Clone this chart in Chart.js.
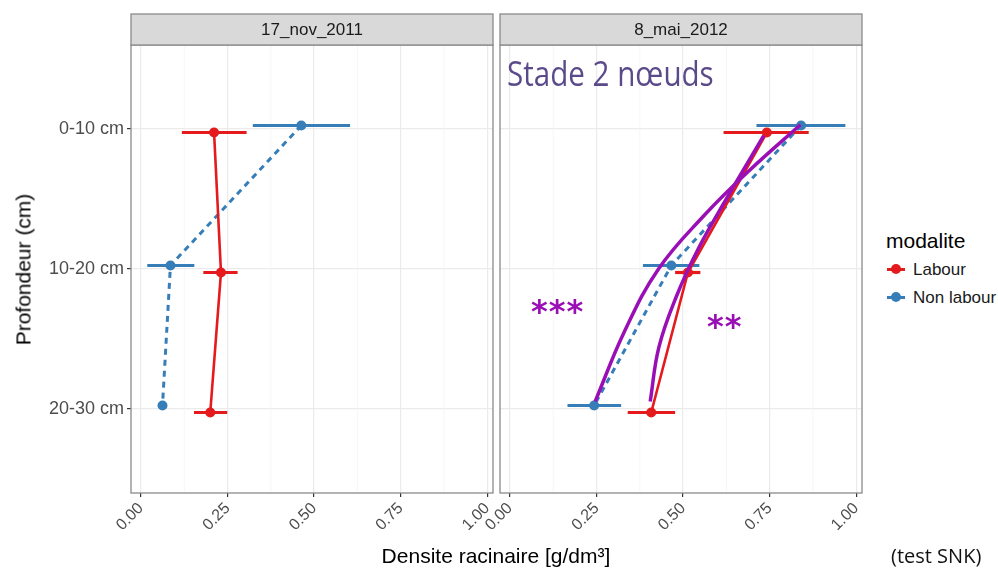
<!DOCTYPE html>
<html lang="fr">
<head>
<meta charset="UTF-8">
<title>Densite racinaire</title>
<script src="https://cdn.jsdelivr.net/npm/chart.js"></script>
<style>
  body { margin: 0; background: #fff; font-family: 'Liberation Sans', Arial, sans-serif; }
  .stage { position: relative; width: 998px; height: 570px; overflow: hidden; }
  canvas { position: absolute; top: 0; }
  #leftChart { left: 0; }
  #rightChart { left: 395px; }
  .txt { position: absolute; white-space: nowrap; line-height: 1; }
  .axisTitle { font-size: 21px; color: #000; }
  .ytitle { left: -127px; top: 259px; width: 300px; text-align: center; transform: rotate(-90deg); }
  .xtitle { left: 296px; top: 545px; width: 400px; text-align: center; }
  .legTitle { left: 886px; top: 230px; font-size: 21px; }
  .legLabel { left: 913px; font-size: 17px; color: #1a1a1a; }
  .key { position: absolute; left: 887px; width: 18px; height: 3px; }
  .key::after { content: ''; position: absolute; left: 4px; top: -4px; width: 10px; height: 10px; border-radius: 50%; background: inherit; }
  .stade { left: 507px; top: 56px; font-family: 'Open Sans', sans-serif; font-size: 34px; color: #5b4a8a; transform: scaleX(0.87); transform-origin: left top; }
  .stars { font-family: 'DejaVu Sans', sans-serif; font-weight: bold; font-size: 32px; letter-spacing: 1px; color: #9a0fb5; }
  .snk { left: 891px; top: 546px; font-family: 'Open Sans', sans-serif; font-size: 20px; color: #111; }
</style>
</head>
<body>
<div class="stage">
  <canvas id="leftChart" width="512" height="570"></canvas>
  <canvas id="rightChart" width="485" height="570"></canvas>

  <div class="txt axisTitle ytitle">Profondeur (cm)</div>
  <div class="txt axisTitle xtitle">Densite racinaire [g/dm³]</div>

  <div class="txt legTitle">modalite</div>
  <div class="key" style="top:268px; background:#e41a1c;"></div>
  <div class="txt legLabel" style="top:261px;">Labour</div>
  <div class="key" style="top:296px; background:#377eb8;"></div>
  <div class="txt legLabel" style="top:289px;">Non labour</div>

  <div class="txt stade">Stade 2 nœuds</div>
  <div class="txt stars" style="left:531px; top:295px;">***</div>
  <div class="txt stars" style="left:707px; top:310px;">**</div>
  <div class="txt snk">(test SNK)</div>
</div>

<script>
// ---- data ----
const panels = ['17_nov_2011', '8_mai_2012'];
const depths = ['0-10 cm', '10-20 cm', '20-30 cm'];
const xTickValues = [0, 0.25, 0.5, 0.75, 1];
const xTickLabels = ['0.00', '0.25', '0.50', '0.75', '1.00'];
const xMinorValues = [0.125, 0.375, 0.625, 0.875];

// 17_nov_2011
const novLabour = [0.211, 0.231, 0.200];
const novLabourLo = [0.118, 0.180, 0.153];
const novLabourHi = [0.305, 0.279, 0.249];
const novNonLabour = [0.463, 0.085, 0.062];
const novNonLabourLo = [0.323, 0.018, null];
const novNonLabourHi = [0.604, 0.154, null];

// 8_mai_2012
const maiLabour = [0.742, 0.514, 0.408];
const maiLabourLo = [0.617, 0.477, 0.340];
const maiLabourHi = [0.863, 0.550, 0.477];
const maiNonLabour = [0.841, 0.466, 0.243];
const maiNonLabourLo = [0.712, 0.384, 0.166];
const maiNonLabourHi = [0.969, 0.547, 0.321];

// hand-drawn trend curves (purple) on the 2012 panel
const fitLabourX = [0.405, 0.430, 0.480, 0.545, 0.625, 0.733];
const fitLabourY = [1.946, 1.56, 1.20, 0.85, 0.50, 0.048];
const fitNonLabourX = [0.246, 0.330, 0.429, 0.560, 0.690, 0.839];
const fitNonLabourY = [1.946, 1.45, 1.00, 0.62, 0.30, -0.03];

const RED = '#e41a1c';
const BLUE = '#377eb8';
const PURPLE = '#9a0fb5';
const dodge = 0.025;

Chart.defaults.font.family = "'Liberation Sans', Arial, sans-serif";

function points(values, offset) {
  return values.map((v, i) => ({ x: v, y: i + offset }));
}
function curve(xs, ys) {
  return xs.map((v, i) => ({ x: v, y: ys[i] }));
}

const panelDecor = {
  id: 'panelDecor',
  beforeDatasetsDraw(chart) {
    const { ctx, chartArea: a, scales: { x, y } } = chart;
    ctx.save();
    ctx.strokeStyle = '#f2f2f2';
    ctx.lineWidth = 0.7;
    xMinorValues.forEach(v => {
      const px = x.getPixelForValue(v);
      ctx.beginPath(); ctx.moveTo(px, a.top); ctx.lineTo(px, a.bottom); ctx.stroke();
    });
    // horizontal error bars
    chart.data.datasets.forEach(ds => {
      if (!ds.errLo) return;
      ctx.strokeStyle = ds.borderColor;
      ctx.lineWidth = 3.2;
      ds.data.forEach((p, j) => {
        if (ds.errLo[j] == null) return;
        const py = y.getPixelForValue(p.y);
        ctx.beginPath();
        ctx.moveTo(x.getPixelForValue(ds.errLo[j]), py);
        ctx.lineTo(x.getPixelForValue(ds.errHi[j]), py);
        ctx.stroke();
      });
    });
    ctx.restore();
  },
  afterDraw(chart, args, opts) {
    const { ctx, chartArea: a } = chart;
    ctx.save();
    ctx.strokeStyle = '#8a8a8a';
    ctx.lineWidth = 1.3;
    ctx.strokeRect(a.left, a.top, a.width, a.height);
    ctx.fillStyle = '#d9d9d9';
    ctx.fillRect(a.left, 14, a.width, a.top - 14);
    ctx.strokeRect(a.left, 14, a.width, a.top - 14);
    ctx.fillStyle = '#1a1a1a';
    ctx.font = "17px 'Liberation Sans', Arial, sans-serif";
    ctx.textAlign = 'center';
    ctx.textBaseline = 'middle';
    ctx.fillText(opts.title, (a.left + a.right) / 2, (14 + a.top) / 2 + 1);
    ctx.restore();
  }
};

function makeScales(showY) {
  return {
    x: {
      type: 'linear', min: -0.029, max: 1.017,
      afterBuildTicks: s => { s.ticks = xTickValues.map(v => ({ value: v })); },
      afterFit: s => { s.height = 50; },
      ticks: {
        callback: (v, i) => xTickLabels[i],
        minRotation: 45, maxRotation: 45, autoSkip: false,
        color: '#4d4d4d', font: { size: 16 }, padding: 2
      },
      grid: { color: '#ebebeb', lineWidth: 1.2, tickLength: 4, tickColor: '#333', tickWidth: 1.2 },
      border: { display: false }
    },
    y: {
      type: 'linear', min: -0.6, max: 2.6, reverse: true,
      afterBuildTicks: s => { s.ticks = depths.map((d, i) => ({ value: i })); },
      afterFit: s => { s.width = showY ? 131 : 0; },
      ticks: {
        display: showY,
        callback: v => depths[Math.round(v)],
        color: '#4d4d4d', font: { size: 18 }, padding: 3
      },
      grid: { color: '#ebebeb', lineWidth: 1.2, drawTicks: showY, tickLength: showY ? 4 : 0, tickColor: '#333', tickWidth: 1.2 },
      border: { display: false }
    }
  };
}

function seriesSet(label, values, lo, hi, color, offset, dash) {
  return {
    label: label,
    data: points(values, offset),
    errLo: lo, errHi: hi,
    showLine: true,
    borderColor: color,
    backgroundColor: color,
    pointBackgroundColor: color,
    pointBorderWidth: 0,
    pointRadius: 5,
    borderWidth: dash ? 3 : 2.6,
    borderDash: dash ? [6, 5] : [],
    tension: 0
  };
}

function makeChart(id, title, datasets, showY, pad) {
  return new Chart(document.getElementById(id), {
    type: 'scatter',
    data: { datasets: datasets },
    options: {
      responsive: false,
      animation: false,
      layout: { padding: pad },
      scales: makeScales(showY),
      plugins: {
        legend: { display: false },
        tooltip: { enabled: false },
        panelDecor: { title: title }
      }
    },
    plugins: [panelDecor]
  });
}

makeChart('leftChart', panels[0], [
  seriesSet('Labour', novLabour, novLabourLo, novLabourHi, RED, dodge, false),
  seriesSet('Non labour', novNonLabour, novNonLabourLo, novNonLabourHi, BLUE, -dodge, true)
], true, { left: 0, right: 19, top: 45, bottom: 27 });

makeChart('rightChart', panels[1], [
  { label: 'fit Labour', data: curve(fitLabourX, fitLabourY), showLine: true, borderColor: PURPLE,
    borderWidth: 3.5, pointRadius: 0, tension: 0.4 },
  { label: 'fit Non labour', data: curve(fitNonLabourX, fitNonLabourY), showLine: true, borderColor: PURPLE,
    borderWidth: 3.5, pointRadius: 0, tension: 0.4 },
  seriesSet('Labour', maiLabour, maiLabourLo, maiLabourHi, RED, dodge, false),
  seriesSet('Non labour', maiNonLabour, maiNonLabourLo, maiNonLabourHi, BLUE, -dodge, true)
], false, { left: 105, right: 18, top: 45, bottom: 27 });
</script>
</body>
</html>
